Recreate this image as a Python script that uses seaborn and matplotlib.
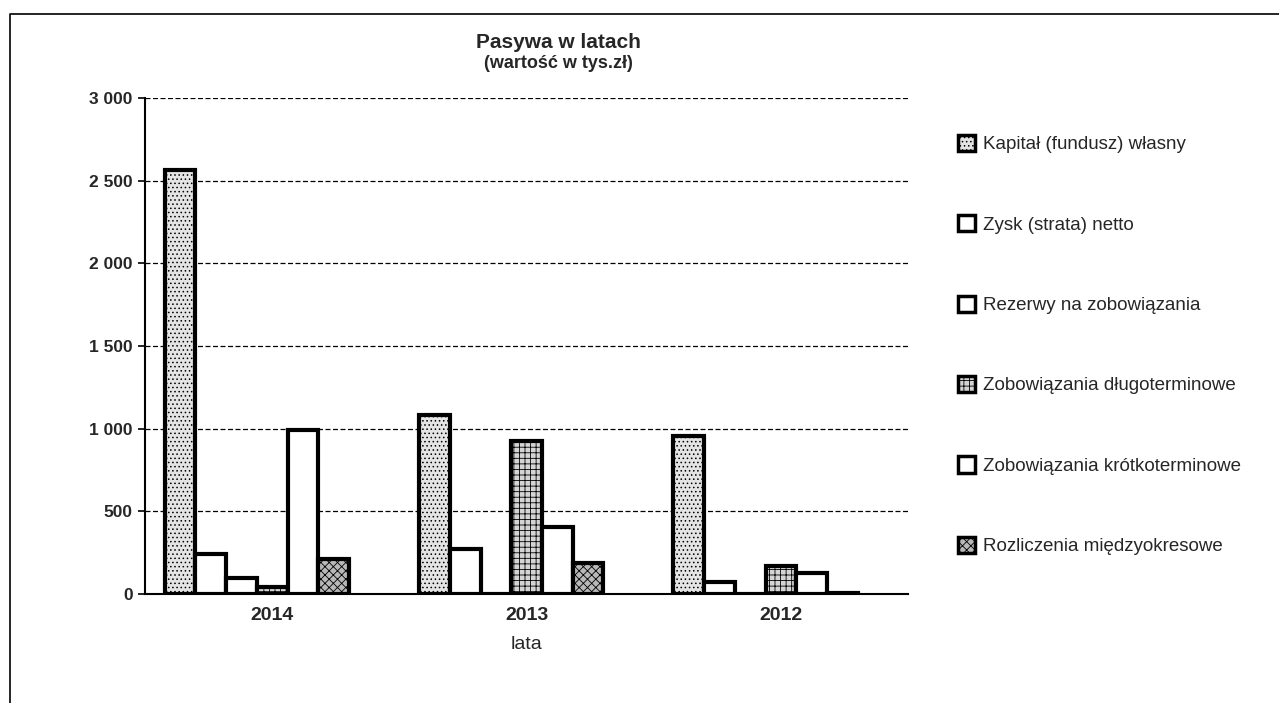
import pandas as pd
import seaborn as sns
import matplotlib.pyplot as plt
from matplotlib.patches import Patch
from matplotlib.lines import Line2D
from matplotlib.ticker import FuncFormatter, FixedLocator

years = ["2014", "2013", "2012"]
kapital = [2565, 1085, 955]
zysk = [240, 275, 75]
rezerwy = [100, 0, 0]
dlugo = [40, 925, 170]
krotko = [995, 405, 130]
rozl = [210, 190, 5]

series = ["Kapitał (fundusz) własny", "Zysk (strata) netto", "Rezerwy na zobowiązania",
          "Zobowiązania długoterminowe", "Zobowiązania krótkoterminowe",
          "Rozliczenia międzyokresowe"]
values = [kapital, zysk, rezerwy, dlugo, krotko, rozl]

# fill / hatch per series (grayscale print look)
faces = ["#e4e4e4", "white", "white", "#d4d4d4", "white", "#b8b8b8"]
hatches = ["....", "", "", "+++", "", "xxxx"]

rows = []
for name, vals in zip(series, values):
    for y, v in zip(years, vals):
        rows.append({"lata": y, "seria": name, "wartosc": v})
df = pd.DataFrame(rows)

sns.set_style("white")
plt.rcParams["font.family"] = ["Liberation Sans", "DejaVu Sans"]
plt.rcParams["hatch.linewidth"] = 0.6

fig = plt.figure(figsize=(12.79, 7.03), dpi=100)
ax = fig.add_axes([0.1134, 0.155, 0.5966, 0.7055])

# an empty 7th slot keeps the Excel-style offset of the groups
hue_order = series + [" "]
sns.barplot(data=df, x="lata", y="wartosc", hue="seria", order=years,
            hue_order=hue_order, width=0.845, legend=False, ax=ax,
            linewidth=3, edgecolor="black", errorbar=None)

for cont, fc, h in zip(ax.containers, faces, hatches):
    for bar in cont:
        bar.set_facecolor(fc)
        bar.set_hatch(h)
        bar.set_edgecolor("black")

ax.set_ylim(0, 3000)
ax.set_xlim(-0.5, 2.5)
ax.set_yticks(range(0, 3001, 500))
ax.yaxis.set_major_formatter(FuncFormatter(lambda v, p: f"{int(v):,}".replace(",", " ")))
ax.yaxis.grid(True, color="black", linestyle=(0, (4, 2)), linewidth=0.9)
ax.set_axisbelow(True)

for s in ["top", "right"]:
    ax.spines[s].set_visible(False)
for s in ["left", "bottom"]:
    ax.spines[s].set_color("black")
    ax.spines[s].set_linewidth(1.5)

ax.tick_params(axis="x", length=0, labelsize=14, pad=9)
ax.xaxis.set_minor_locator(FixedLocator([-0.5, 0.5, 1.5, 2.5]))
ax.tick_params(axis="x", which="minor", length=6, width=1.2, direction="out", color="black")
ax.tick_params(axis="y", length=5, width=1.2, direction="out", color="black",
               labelsize=12.5, left=True, pad=4)
for t in ax.get_xticklabels():
    t.set_fontweight("bold")
for t in ax.get_yticklabels():
    t.set_fontweight("bold")

ax.set_xlabel("lata", fontsize=14, labelpad=9)
ax.set_ylabel("")

fig.text(0.4363, 0.940, "Pasywa w latach", ha="center", va="center",
         fontsize=15, fontweight="bold")
fig.text(0.4363, 0.909, "(wartość w tys.zł)", ha="center", va="center",
         fontsize=13, fontweight="bold")

handles = [Patch(facecolor=fc, edgecolor="black", hatch=h, linewidth=2.5)
           for fc, h in zip(faces, hatches)]
fig.legend(handles, series, loc="upper left", bbox_to_anchor=(0.7428, 0.819),
           frameon=False, fontsize=13.5, handlelength=0.95, handleheight=0.95,
           handletextpad=0.4, labelspacing=3.3, borderaxespad=0)

# scanned page frame: only top and left edges visible
fig.lines.append(Line2D([0.008, 0.008, 1.0], [0.0, 0.980, 0.980], transform=fig.transFigure,
                        color="black", linewidth=1.2))

fig.savefig("out.png", dpi=100)
